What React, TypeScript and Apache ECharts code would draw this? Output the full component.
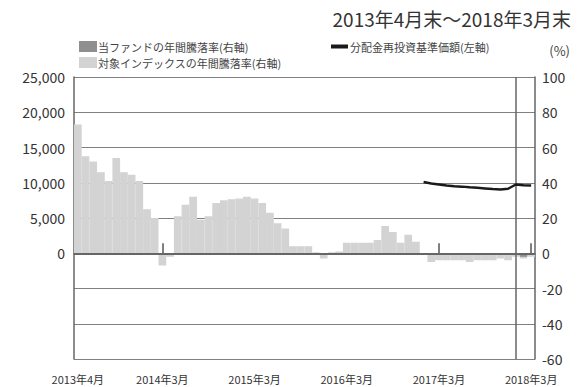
import React, { useEffect, useRef } from "react";
import * as echarts from "echarts";

const categories = [
  "2013年4月","2013年5月","2013年6月","2013年7月","2013年8月","2013年9月","2013年10月","2013年11月","2013年12月","2014年1月","2014年2月","2014年3月",
  "2014年4月","2014年5月","2014年6月","2014年7月","2014年8月","2014年9月","2014年10月","2014年11月","2014年12月","2015年1月","2015年2月","2015年3月",
  "2015年4月","2015年5月","2015年6月","2015年7月","2015年8月","2015年9月","2015年10月","2015年11月","2015年12月","2016年1月","2016年2月","2016年3月",
  "2016年4月","2016年5月","2016年6月","2016年7月","2016年8月","2016年9月","2016年10月","2016年11月","2016年12月","2017年1月","2017年2月","2017年3月",
  "2017年4月","2017年5月","2017年6月","2017年7月","2017年8月","2017年9月","2017年10月","2017年11月","2017年12月","2018年1月","2018年2月","2018年3月",
];

const labelCategories = ["2013年4月", "2014年3月", "2015年3月", "2016年3月", "2017年3月", "2018年3月"];
const tickCategories = ["2014年3月", "2015年3月", "2016年3月", "2017年3月", "2018年3月"];

// 対象インデックスの年間騰落率 (%)
const indexReturn = [
  73, 55, 52, 46, 41, 54, 46, 44.5, 41, 25, 20, -7,
  -2, 21, 27.5, 32, 19, 21, 28.5, 30, 30.7, 31, 32, 31,
  28.5, 23, 17, 14, 4, 4, 4, 0.5, -3, 0.5, 1, 6,
  6, 6, 6, 7.5, 15.5, 12, 6, 10.5, 6.5, -1, -5, -4,
  -4, -4, -4, -5, -4, -4, -4, -3, -4, -2, -3, -2,
];

// 当ファンドの年間騰落率 (%)
const fundReturn: (number | null)[] = [
  null, null, null, null, null, null, null, null, null, null, null, null,
  null, null, null, null, null, null, null, null, null, null, null, null,
  null, null, null, null, null, null, null, null, null, null, null, null,
  null, null, null, null, null, null, null, null, null, null, null, null,
  null, null, null, null, null, null, null, null, null, -1, -2, -1,
];

// 分配金再投資基準価額 (円)
const navValues: (number | null)[] = [
  null, null, null, null, null, null, null, null, null, null, null, null,
  null, null, null, null, null, null, null, null, null, null, null, null,
  null, null, null, null, null, null, null, null, null, null, null, null,
  null, null, null, null, null, null, null, null, null, 10100, 9900, 9750,
  9600, 9500, 9450, 9350, 9300, 9200, 9100, 9050, 9150, 9750, 9650, 9600,
];

const leftTicks = { min: -15000, max: 25000, interval: 5000 };
const rightTicks = { min: -60, max: 100, interval: 20 };

const FONT = "'Noto Sans CJK JP', 'Noto Sans', sans-serif";

export default function App() {
  const ref = useRef<HTMLDivElement>(null);
  useEffect(() => {
    if (!ref.current) return;
    const chart = echarts.init(ref.current, null, { renderer: "svg" });
    chart.setOption({
      animation: false,
      textStyle: { fontFamily: FONT },
      title: {
        text: "2013年4月末～2018年3月末",
        right: 2,
        top: 4,
        textStyle: { fontSize: 19, fontWeight: "normal", color: "#333", fontFamily: FONT },
      },
      graphic: [
        {
          type: "text",
          right: 8,
          top: 44,
          style: { text: "(%)", fontSize: 13, fill: "#444", fontFamily: FONT },
        },
      ],
      legend: [
        {
          left: 74,
          top: 36,
          orient: "vertical",
          itemWidth: 16,
          itemHeight: 9,
          itemGap: 5,
          textStyle: { fontSize: 11, color: "#444", fontFamily: FONT, padding: [0, 0, 0, -3] },
          data: [
            { name: "当ファンドの年間騰落率(右軸)", icon: "rect" },
            { name: "対象インデックスの年間騰落率(右軸)", icon: "rect" },
          ],
        },
        {
          left: 326,
          top: 36,
          itemWidth: 17,
          itemHeight: 4,
          textStyle: { fontSize: 11, color: "#444", fontFamily: FONT, padding: [0, 0, 0, -3] },
          data: [{ name: "分配金再投資基準価額(左軸)", icon: "rect" }],
        },
      ],
      grid: { left: 74, right: 43, top: 77, bottom: 28 },
      xAxis: {
        type: "category",
        data: categories,
        boundaryGap: true,
        axisLine: { show: true, lineStyle: { color: "#666", width: 1.5 } },
        axisTick: {
          show: true,
          inside: true,
          length: 10,
          alignWithLabel: true,
          interval: (i: number, v: string) => tickCategories.includes(v),
          lineStyle: { color: "#555", width: 1.5 },
        },
        axisLabel: {
          interval: (i: number, v: string) => labelCategories.includes(v),
          fontSize: 11,
          color: "#333",
          margin: 14,
          fontFamily: FONT,
        },
        splitLine: { show: false },
      },
      yAxis: [
        {
          type: "value",
          position: "left",
          min: leftTicks.min,
          max: leftTicks.max,
          interval: leftTicks.interval,
          axisLine: { show: true, lineStyle: { color: "#666", width: 1.5 } },
          axisTick: { show: false },
          splitLine: { show: false },
          axisLabel: {
            fontSize: 14,
            color: "#333",
            margin: 9,
            fontFamily: FONT,
            formatter: (v: number) => (v < 0 ? "" : v.toLocaleString("en-US")),
          },
        },
        {
          type: "value",
          position: "right",
          min: rightTicks.min,
          max: rightTicks.max,
          interval: rightTicks.interval,
          axisLine: { show: true, lineStyle: { color: "#666", width: 1.5 } },
          axisTick: { show: false },
          splitLine: { show: true, lineStyle: { color: "#808080", width: 1 } },
          axisLabel: { fontSize: 14, color: "#333", margin: 7, fontFamily: FONT },
        },
      ],
      series: [
        {
          name: "対象インデックスの年間騰落率(右軸)",
          type: "bar",
          yAxisIndex: 1,
          data: indexReturn,
          barGap: "-100%",
          barCategoryGap: "0%",
          itemStyle: { color: "#d3d3d3", borderColor: "#d3d3d3", borderWidth: 1.2 },
          markLine: {
            silent: true,
            symbol: "none",
            label: { show: false },
            data: [
              { yAxis: 0, lineStyle: { color: "#666", width: 2, type: "solid" } },
              { xAxis: "2018年1月", lineStyle: { color: "#666", width: 1.5, type: "solid" } },
            ],
          },
        },
        {
          name: "当ファンドの年間騰落率(右軸)",
          type: "bar",
          yAxisIndex: 1,
          data: fundReturn,
          barGap: "-100%",
          barCategoryGap: "0%",
          itemStyle: { color: "#8f8f8f", borderColor: "#8f8f8f", borderWidth: 1 },
        },
        {
          name: "分配金再投資基準価額(左軸)",
          type: "line",
          yAxisIndex: 0,
          data: navValues,
          showSymbol: false,
          symbol: "none",
          lineStyle: { color: "#1a1a1a", width: 2.5 },
          itemStyle: { color: "#1a1a1a" },
          z: 5,
        },
      ],
    });
    return () => chart.dispose();
  }, []);
  return <div ref={ref} style={{ width: 578, height: 387, position: "absolute", left: 0, top: 0 }} />;
}
